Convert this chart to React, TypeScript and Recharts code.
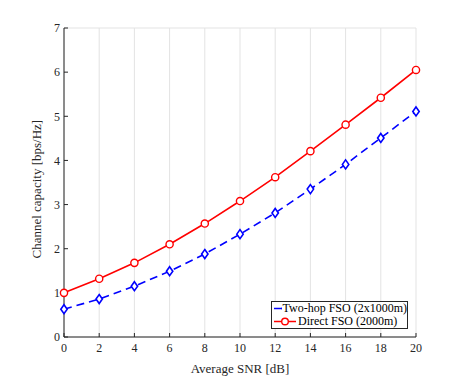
import React from 'react';
import { LineChart, Line, XAxis, YAxis, CartesianGrid } from 'recharts';

const snr = [0, 2, 4, 6, 8, 10, 12, 14, 16, 18, 20];
const twoHop = [0.63, 0.86, 1.15, 1.49, 1.88, 2.33, 2.81, 3.35, 3.91, 4.51, 5.11];
const direct = [1.0, 1.32, 1.68, 2.1, 2.57, 3.08, 3.62, 4.21, 4.81, 5.42, 6.05];
const xTicks = [0, 2, 4, 6, 8, 10, 12, 14, 16, 18, 20];
const yTicks = [0, 1, 2, 3, 4, 5, 6, 7];
const seriesNames = ['Two-hop FSO (2x1000m)', 'Direct FSO (2000m)'];

const data = snr.map((s, i) => ({ snr: s, twoHop: twoHop[i], direct: direct[i] }));

const FONT = '"Liberation Serif", "Times New Roman", serif';
const AX = '#262626';

const Diamond = (props: any) => {
  const { cx, cy } = props;
  if (cx == null || cy == null) return null;
  return (
    <path
      d={`M${cx},${cy - 4.5} L${cx + 3.2},${cy} L${cx},${cy + 4.5} L${cx - 3.2},${cy} Z`}
      fill="#ffffff"
      stroke="#0000ff"
      strokeWidth={1.6}
    />
  );
};

const Circle = (props: any) => {
  const { cx, cy } = props;
  if (cx == null || cy == null) return null;
  return <circle cx={cx} cy={cy} r={3.6} fill="#ffffff" stroke="#ff0000" strokeWidth={1.4} />;
};

const LegendBox = () => (
  <div
    style={{
      position: 'absolute',
      left: 271,
      top: 301,
      border: '1px solid #262626',
      background: '#fff',
      width: 137,
      height: 28,
      fontFamily: FONT,
      fontSize: 12,
      color: '#000',
      lineHeight: '13px',
      boxSizing: 'border-box',
      whiteSpace: 'nowrap',
      paddingTop: 0,
    }}
  >
    <div style={{ display: 'flex', alignItems: 'center', height: 13 }}>
      <svg width={24} height={13} style={{ marginLeft: 1 }}>
        <line x1={1} y1={6.5} x2={23} y2={6.5} stroke="#0000ff" strokeWidth={1.5} />
        <path d="M12,2.5 L15,6.5 L12,10.5 L9,6.5 Z" fill="#fff" stroke="#0000ff" strokeWidth={1.5} />
      </svg>
      <span style={{ marginLeft: 1 }}>{seriesNames[0]}</span>
    </div>
    <div style={{ display: 'flex', alignItems: 'center', height: 13 }}>
      <svg width={24} height={13} style={{ marginLeft: 1 }}>
        <line x1={1} y1={6.5} x2={23} y2={6.5} stroke="#ff0000" strokeWidth={1.5} />
        <circle cx={12} cy={6.5} r={3.3} fill="#fff" stroke="#ff0000" strokeWidth={1.4} />
      </svg>
      <span style={{ marginLeft: 1 }}>{seriesNames[1]}</span>
    </div>
  </div>
);

export default function App() {
  return (
    <div style={{ position: 'absolute', left: 0, top: 0, width: 456, height: 377, background: '#fff' }}>
      <LineChart width={456} height={377} data={data} margin={{ top: 28, right: 40, bottom: 10, left: 24 }}>
        <CartesianGrid stroke="#e3e3e3" strokeWidth={1} vertical horizontal />
        <XAxis
          xAxisId="b"
          dataKey="snr"
          type="number"
          domain={[0, 20]}
          ticks={xTicks}
          height={30}
          stroke={AX}
          tickSize={-4}
          tickMargin={10}
          tick={{ fill: AX, fontFamily: FONT, fontSize: 12 }}
          label={{ value: 'Average SNR [dB]', position: 'insideBottom', offset: -6, fill: AX, fontFamily: FONT, fontSize: 13 }}
        />
        <XAxis
          xAxisId="t"
          orientation="top"
          dataKey="snr"
          type="number"
          domain={[0, 20]}
          ticks={xTicks}
          height={0}
          stroke={AX}
          tickSize={-4}
          tick={false}
        />
        <YAxis
          yAxisId="l"
          type="number"
          domain={[0, 7]}
          ticks={yTicks}
          width={40}
          stroke={AX}
          tickSize={-4}
          tickMargin={8}
          tick={{ fill: AX, fontFamily: FONT, fontSize: 12 }}
          label={{ value: 'Channel capacity [bps/Hz]', angle: -90, position: 'insideLeft', offset: 12, dy: 76, fill: AX, fontFamily: FONT, fontSize: 13 }}
        />
        <YAxis
          yAxisId="r"
          orientation="right"
          type="number"
          domain={[0, 7]}
          ticks={yTicks}
          width={0}
          stroke={AX}
          tickSize={-4}
          tick={false}
        />
        <Line
          xAxisId="b"
          yAxisId="l"
          name={seriesNames[0]}
          dataKey="twoHop"
          stroke="#0000ff"
          strokeWidth={1.6}
          strokeDasharray="8 5"
          dot={<Diamond />}
          isAnimationActive={false}
        />
        <Line
          xAxisId="b"
          yAxisId="l"
          name={seriesNames[1]}
          dataKey="direct"
          stroke="#ff0000"
          strokeWidth={1.6}
          dot={<Circle />}
          isAnimationActive={false}
        />
      </LineChart>
      <LegendBox />
    </div>
  );
}
